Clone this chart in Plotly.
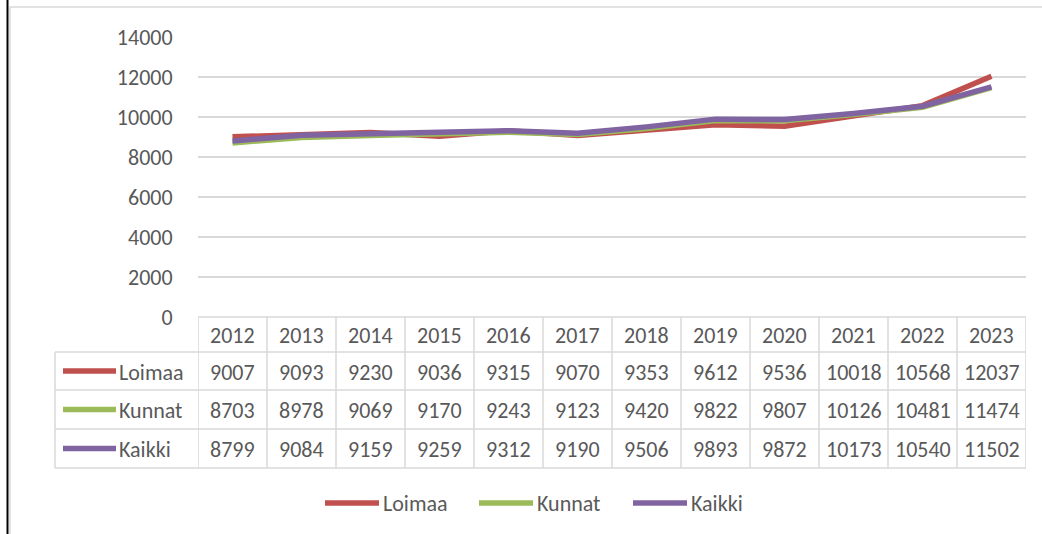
import plotly.graph_objects as go

years = [2012, 2013, 2014, 2015, 2016, 2017, 2018, 2019, 2020, 2021, 2022, 2023]
series_names = ["Loimaa", "Kunnat", "Kaikki"]
loimaa = [9007, 9093, 9230, 9036, 9315, 9070, 9353, 9612, 9536, 10018, 10568, 12037]
kunnat = [8703, 8978, 9069, 9170, 9243, 9123, 9420, 9822, 9807, 10126, 10481, 11474]
kaikki = [8799, 9084, 9159, 9259, 9312, 9190, 9506, 9893, 9872, 10173, 10540, 11502]
y_ticks = [0, 2000, 4000, 6000, 8000, 10000, 12000, 14000]

series_values = [loimaa, kunnat, kaikki]
colors = ["#C0504D", "#9BBB59", "#8064A2"]

W, H = 1042, 534
FONT = "Calibri, Carlito, Lato, sans-serif"
FS = 22
TXT = "#595959"
GRID = "#D9D9D9"

def px(x):
    return x / W

def py(y):
    return 1 - y / H

plot_left, plot_right = 198, 1026
plot_top, plot_bottom = 37, 317

fig = go.Figure()
for name, vals, col in zip(series_names, series_values, colors):
    fig.add_trace(go.Scatter(
        x=years, y=vals, name=name, mode="lines",
        line=dict(color=col, width=5.5), showlegend=False,
        hoverinfo="x+y+name",
    ))

shapes = []
annotations = []

shapes.append(dict(type="line", xref="paper", yref="paper", x0=px(7.5), x1=px(7.5), y0=0, y1=1,
                   line=dict(color="#000000", width=2)))
shapes.append(dict(type="rect", xref="paper", yref="paper", x0=px(10), x1=px(1060), y0=py(560), y1=py(7),
                   line=dict(color=GRID, width=1.5)))

row_edges = [317, 352, 390, 429, 468]
label_left = 55
shapes.append(dict(type="line", xref="paper", yref="paper", x0=px(plot_left), x1=px(plot_right),
                   y0=py(row_edges[0]), y1=py(row_edges[0]), line=dict(color=GRID, width=1.5)))
for ye in row_edges[1:]:
    shapes.append(dict(type="line", xref="paper", yref="paper", x0=px(label_left), x1=px(plot_right),
                       y0=py(ye), y1=py(ye), line=dict(color=GRID, width=1.5)))
for yr in years:
    shapes.append(dict(type="line", xref="x", yref="paper", x0=yr - 0.5, x1=yr - 0.5,
                       y0=py(row_edges[-1]), y1=py(row_edges[0]), line=dict(color=GRID, width=1.5)))
shapes.append(dict(type="line", xref="x", yref="paper", x0=years[-1] + 0.5, x1=years[-1] + 0.5,
                   y0=py(row_edges[-1]), y1=py(row_edges[0]), line=dict(color=GRID, width=1.5)))
shapes.append(dict(type="line", xref="paper", yref="paper", x0=px(label_left), x1=px(label_left),
                   y0=py(row_edges[-1]), y1=py(row_edges[1]), line=dict(color=GRID, width=1.5)))

hdr_c = (row_edges[0] + row_edges[1]) / 2 + 1
for yr in years:
    annotations.append(dict(x=yr, y=py(hdr_c), xref="x", yref="paper", text=str(yr), showarrow=False,
                            font=dict(family=FONT, size=FS, color=TXT), xanchor="center", yanchor="middle"))

for r, (name, vals, col) in enumerate(zip(series_names, series_values, colors)):
    yc = (row_edges[r + 1] + row_edges[r + 2]) / 2 + 1
    for yr, v in zip(years, vals):
        annotations.append(dict(x=yr, y=py(yc), xref="x", yref="paper", text=str(v), showarrow=False,
                                font=dict(family=FONT, size=FS, color=TXT), xanchor="center", yanchor="middle"))
    shapes.append(dict(type="line", xref="paper", yref="paper", x0=px(63), x1=px(116), y0=py(yc - 1), y1=py(yc - 1),
                       line=dict(color=col, width=5.5)))
    annotations.append(dict(x=px(117), y=py(yc), xref="paper", yref="paper", text=name, showarrow=False,
                            font=dict(family=FONT, size=FS, color=TXT), xanchor="left", yanchor="middle"))

leg_y = 503
leg_x = [325, 479, 633]
for name, col, lx in zip(series_names, colors, leg_x):
    shapes.append(dict(type="line", xref="paper", yref="paper", x0=px(lx), x1=px(lx + 54), y0=py(leg_y), y1=py(leg_y),
                       line=dict(color=col, width=5.5)))
    annotations.append(dict(x=px(lx + 56), y=py(leg_y), xref="paper", yref="paper", text=name, showarrow=False,
                            font=dict(family=FONT, size=FS, color=TXT), xanchor="left", yanchor="middle"))

fig.update_layout(
    template="none",
    width=W, height=H,
    margin=dict(l=0, r=0, t=0, b=0, pad=0, autoexpand=False),
    paper_bgcolor="white", plot_bgcolor="white",
    shapes=shapes, annotations=annotations,
    showlegend=False,
    xaxis=dict(domain=[px(plot_left), px(plot_right)], range=[years[0] - 0.5, years[-1] + 0.5],
               showticklabels=False, showgrid=False, zeroline=False, showline=False, ticks="",
               automargin=False),
    yaxis=dict(domain=[py(plot_bottom), py(plot_top)], range=[0, 14000], tickvals=y_ticks,
               ticktext=[str(t) for t in y_ticks], automargin=False,
               showgrid=True, gridcolor=GRID, gridwidth=1.5, zeroline=False, showline=False,
               ticks="outside", ticklen=20, tickcolor="rgba(0,0,0,0)",
               tickfont=dict(family=FONT, size=FS, color=TXT)),
)

fig.write_html("out.html", config={"displayModeBar": False},
               post_script="document.body.style.margin='0';document.body.style.overflow='hidden';")
